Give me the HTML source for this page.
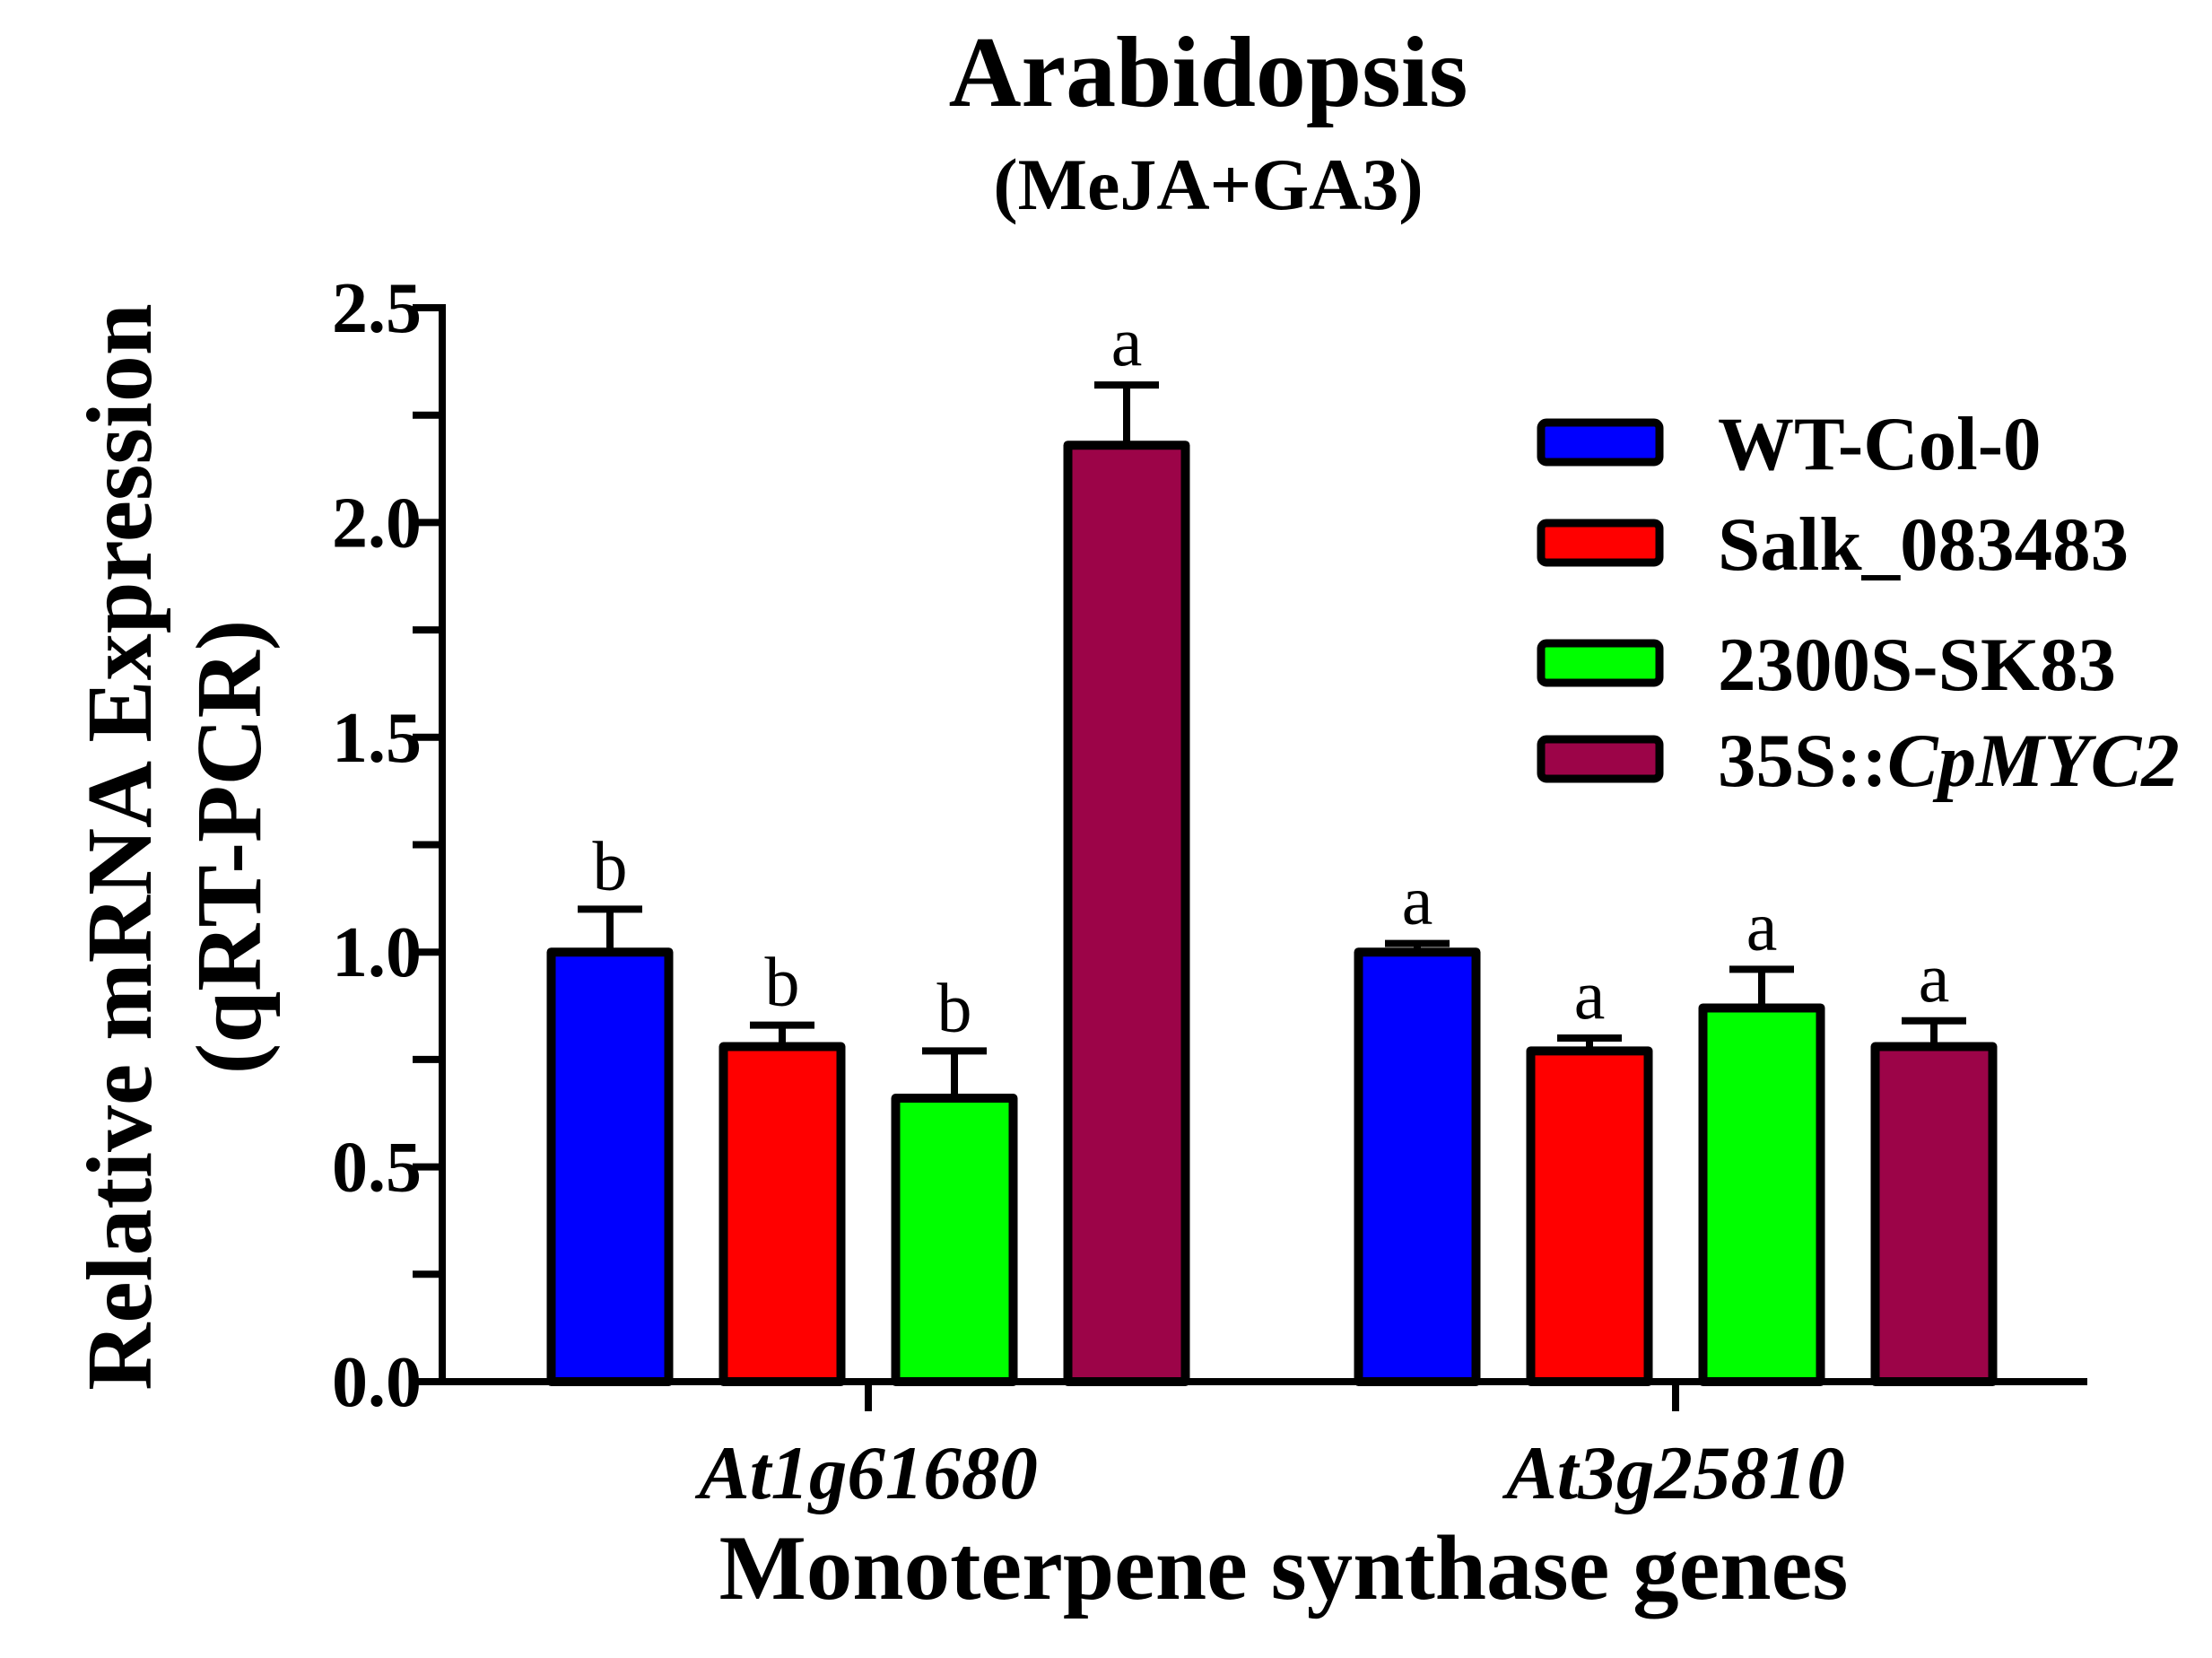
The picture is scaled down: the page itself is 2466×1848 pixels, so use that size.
<!DOCTYPE html>
<html><head><meta charset="utf-8"><style>
html,body{margin:0;padding:0;background:#fff;}
svg{display:block;font-family:"Liberation Serif",serif;font-weight:bold;}
</style></head><body>
<svg id="chart" width="2466" height="1848" viewBox="0 0 2466 1848" xmlns="http://www.w3.org/2000/svg">
<text x="1347" y="118" font-size="112" text-anchor="middle">Arabidopsis</text>
<text x="1347" y="233" font-size="82" text-anchor="middle">(MeJA+GA3)</text>
<g id="plot"></g>
<text transform="translate(168,944) rotate(-90)" font-size="104" text-anchor="middle">Relative mRNA Expression</text>
<text transform="translate(290,944) rotate(-90)" font-size="104" text-anchor="middle">(qRT-PCR)</text>
<text x="1431" y="1782" font-size="103" text-anchor="middle">Monoterpene synthase genes</text>
</svg>
<script>
const categories = ["At1g61680", "At3g25810"];
const seriesNames = ["WT-Col-0", "Salk_083483", "2300S-SK83", "35S::CpMYC2"];
const wtValues = [1.0, 1.0];
const salkValues = [0.78, 0.77];
const sk83Values = [0.66, 0.87];
const mycValues = [2.18, 0.78];
const wtErr = [0.10, 0.02];
const salkErr = [0.05, 0.03];
const sk83Err = [0.11, 0.09];
const mycErr = [0.14, 0.06];
const wtLetters = ["b", "a"];
const salkLetters = ["b", "a"];
const sk83Letters = ["b", "a"];
const mycLetters = ["a", "a"];
const yTicks = [0.0, 0.5, 1.0, 1.5, 2.0, 2.5];
const yTickLabels = ["0.0", "0.5", "1.0", "1.5", "2.0", "2.5"];

const NS = "http://www.w3.org/2000/svg";
const plot = document.getElementById("plot");
const colors = ["#0000ff", "#ff0000", "#00ff00", "#9c0448"];
const X0 = 493, X1 = 2327, Y0 = 1540, Ytop = 343, YMAX = 2.5;
function y(v){ return Y0 - (Y0 - Ytop) * v / YMAX; }
const groupCenters = [968, 1868];
const barW = 131, barStep = 192;
function barX(g, s){ return groupCenters[g] + (s - 1.5) * barStep - barW / 2; }
function mk(tag, attrs){ const e = document.createElementNS(NS, tag); for (const k in attrs) e.setAttribute(k, attrs[k]); plot.appendChild(e); return e; }

const vals = [wtValues, salkValues, sk83Values, mycValues];
const errs = [wtErr, salkErr, sk83Err, mycErr];
const letters = [wtLetters, salkLetters, sk83Letters, mycLetters];

for (let s = 0; s < 4; s++) {
  for (let g = 0; g < categories.length; g++) {
    const v = vals[s][g], e = errs[s][g];
    const bx = barX(g, s), cx = bx + barW / 2;
    const eb = mk("line", {x1: cx, x2: cx, y1: y(v), y2: y(v + e), stroke: "#000", "stroke-width": 8});
    
    
    const cap = mk("line", {x1: cx - 36, x2: cx + 36, y1: y(v + e), y2: y(v + e), stroke: "#000", "stroke-width": 8});
    
    
    const r = mk("rect", {x: bx, y: y(v), width: barW, height: Y0 - y(v), fill: colors[s], stroke: "#000", "stroke-width": 10, "stroke-linejoin": "round"});
    
    
    const t = mk("text", {x: cx, y: y(v + e) - 22, "font-size": 78, "font-weight": "normal", "text-anchor": "middle"});
    t.textContent = letters[s][g];
    
    
  }
}

const ya = mk("line", {x1: X0, x2: X0, y1: Ytop - 4, y2: Y0 + 4, stroke: "#000", "stroke-width": 8});


const xa = mk("line", {x1: X0 - 33, x2: X1, y1: Y0, y2: Y0, stroke: "#000", "stroke-width": 8});


for (let i = 0; i <= 10; i++) {
  const tk = mk("line", {x1: X0 - 33, x2: X0, y1: y(i * 0.25), y2: y(i * 0.25), stroke: "#000", "stroke-width": 8});
  
  
}
for (let i = 0; i < yTicks.length; i++) {
  const t = mk("text", {x: 470, y: y(yTicks[i]) + 27, "font-size": 80, "text-anchor": "end"});
  t.textContent = yTickLabels[i];
  
  
}
for (let g = 0; g < categories.length; g++) {
  const tk = mk("line", {x1: groupCenters[g], x2: groupCenters[g], y1: Y0, y2: Y0 + 33, stroke: "#000", "stroke-width": 8});
  
  
  const t = mk("text", {x: groupCenters[g], y: 1670, "font-size": 85, "font-style": "italic", "text-anchor": "middle"});
  t.textContent = categories[g];
  
  
}
const legY = [493, 605, 739, 846];
for (let s = 0; s < 4; s++) {
  const sw = mk("rect", {x: 1718, y: legY[s] - 22, width: 132, height: 44, rx: 6, fill: colors[s], stroke: "#000", "stroke-width": 9});
  
  
  const t = mk("text", {x: 1915, y: legY[s] + 30, "font-size": 85});
  if (s === 3) {
    t.appendChild(document.createTextNode("35S::"));
    const ts = document.createElementNS(NS, "tspan");
    ts.setAttribute("font-style", "italic");
    ts.textContent = "CpMYC2";
    t.appendChild(ts);
  } else {
    t.textContent = seriesNames[s];
  }
  
  
}
</script>
</body></html>
